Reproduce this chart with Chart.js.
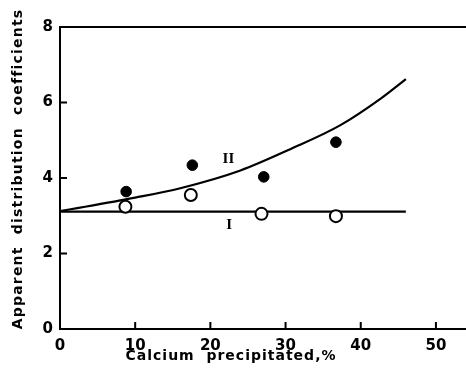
<!DOCTYPE html>
<html lang="en">
  <head>
    <meta charset="UTF-8" />
    <title>Apparent distribution coefficients</title>
    <script src="https://cdn.jsdelivr.net/npm/chart.js"></script>
    <style>
      body { margin: 0; background: #fff; }
      #wrap { width: 466px; height: 374px; }
    </style>
  </head>
  <body>
    <div id="wrap"><canvas id="chart"></canvas></div>
    <script>
      // curve I (flat) and curve II (rising)
      const curveIX = [0, 46];
      const curveIY = [3.11, 3.11];
      const curveIIX = [0, 10, 16, 24, 30.7, 37.3, 42.7, 46];
      const curveIIY = [3.12, 3.48, 3.73, 4.2, 4.77, 5.4, 6.11, 6.62];
      // measured points
      const filledX = [8.8, 17.6, 27.1, 36.7];
      const filledY = [3.64, 4.34, 4.03, 4.95];
      const openX = [8.7, 17.4, 26.8, 36.7];
      const openY = [3.24, 3.55, 3.05, 2.99];
      // curve labels
      const curveLabels = ["II", "I"];
      const curveLabelX = [22.4, 22.5];
      const curveLabelY = [4.5, 2.74];
      const xTitle = "Calcium  precipitated,%";
      const yTitle = "Apparent  distribution  coefficients";

      const toPts = (xs, ys) => xs.map((x, i) => ({ x: x, y: ys[i] }));

      const tickFont = { family: "DejaVu Sans", size: 15, weight: "bold" };

      const extras = {
        id: "extras",
        afterDatasetsDraw(chart) {
          const ctx = chart.ctx;
          const xs = chart.scales.x;
          const ys = chart.scales.y;
          const area = chart.chartArea;
          ctx.save();
          ctx.strokeStyle = "#000";
          ctx.lineWidth = 2;
          // top frame line
          ctx.beginPath();
          ctx.moveTo(area.left, area.top);
          ctx.lineTo(area.right, area.top);
          ctx.stroke();
          // inward ticks
          ctx.beginPath();
          xs.ticks.forEach((t) => {
            const px = xs.getPixelForValue(t.value);
            ctx.moveTo(px, area.bottom);
            ctx.lineTo(px, area.bottom - 7);
          });
          ys.ticks.forEach((t) => {
            const py = ys.getPixelForValue(t.value);
            ctx.moveTo(area.left, py);
            ctx.lineTo(area.left + 7, py);
          });
          ctx.stroke();
          // curve labels
          ctx.fillStyle = "#000";
          ctx.font = "bold 15px 'Liberation Serif'";
          ctx.textAlign = "center";
          ctx.textBaseline = "middle";
          curveLabels.forEach((lab, i) => {
            ctx.fillText(
              lab,
              xs.getPixelForValue(curveLabelX[i]),
              ys.getPixelForValue(curveLabelY[i])
            );
          });
          // axis titles
          ctx.font = "bold 14px 'DejaVu Sans'";
          ctx.letterSpacing = "1px";
          ctx.fillText(xTitle, 231, 356);
          ctx.translate(18, 169);
          ctx.rotate(-Math.PI / 2);
          ctx.letterSpacing = "1.2px";
          ctx.fillText(yTitle, 0, 0);
          ctx.restore();
        },
      };

      new Chart(document.getElementById("chart"), {
        type: "scatter",
        data: {
          datasets: [
            {
              data: toPts(filledX, filledY),
              pointRadius: 5.3,
              pointBackgroundColor: "#000",
              pointBorderColor: "#000",
              pointBorderWidth: 1,
              order: 0,
            },
            {
              data: toPts(openX, openY),
              pointRadius: 6,
              pointBackgroundColor: "#fff",
              pointBorderColor: "#000",
              pointBorderWidth: 2,
              order: 0,
            },
            {
              data: toPts(curveIX, curveIY),
              showLine: true,
              pointRadius: 0,
              borderColor: "#000",
              borderWidth: 2.2,
              order: 1,
            },
            {
              data: toPts(curveIIX, curveIIY),
              showLine: true,
              pointRadius: 0,
              borderColor: "#000",
              borderWidth: 2.2,
              cubicInterpolationMode: "monotone",
              order: 1,
            },
          ],
        },
        options: {
          responsive: true,
          maintainAspectRatio: false,
          animation: false,
          layout: {
            autoPadding: false,
            padding: { top: 27, right: 0, left: 0, bottom: 0 },
          },
          plugins: { legend: { display: false }, tooltip: { enabled: false } },
          scales: {
            x: {
              type: "linear",
              min: 0,
              max: 54,
              border: { color: "#000", width: 2 },
              grid: { drawOnChartArea: false, drawTicks: false },
              ticks: {
                stepSize: 10,
                includeBounds: false,
                padding: 8,
                color: "#000",
                font: tickFont,
              },
              afterFit: (s) => {
                s.height = 45;
                s.paddingLeft = 0;
                s.paddingRight = 0;
              },
            },
            y: {
              min: 0,
              max: 8,
              border: { color: "#000", width: 2 },
              grid: { drawOnChartArea: false, drawTicks: false },
              ticks: { stepSize: 2, padding: 7, color: "#000", font: tickFont },
              afterFit: (s) => {
                s.width = 60;
                s.paddingTop = 0;
                s.paddingBottom = 0;
              },
            },
          },
        },
        plugins: [extras],
      });
    </script>
  </body>
</html>
